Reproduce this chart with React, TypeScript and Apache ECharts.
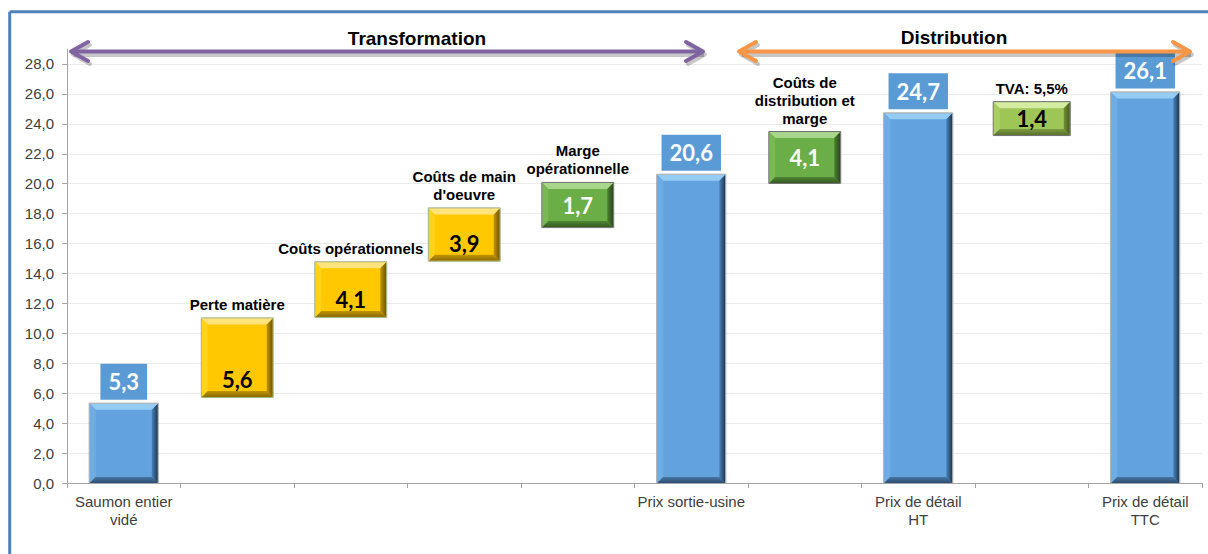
import { useEffect, useRef } from "react";
import * as echarts from "echarts";

// ---- data ----
const axisLabels = [
  "Saumon entier\nvidé",
  "",
  "",
  "",
  "",
  "Prix sortie-usine",
  "",
  "Prix de détail\nHT",
  "",
  "Prix de détail\nTTC",
];
const stepNames = [
  "",
  "Perte matière",
  "Coûts opérationnels",
  "Coûts de main\nd'oeuvre",
  "Marge\nopérationnelle",
  "",
  "Coûts de\ndistribution et\nmarge",
  "",
  "TVA: 5,5%",
  "",
];
const totalValues = [5.3, null, null, null, null, 20.6, null, 24.7, null, 26.1];
const stepValues = [null, 5.6, 4.1, 3.9, 1.7, null, 4.1, null, 1.4, null];
// extents of the floating boxes as drawn in the picture
const stepLow = [null, 5.75, 11.1, 14.85, 17.1, null, 20.05, null, 23.25, null];
const stepHigh = [null, 11.0, 14.75, 18.35, 20.05, null, 23.45, null, 25.45, null];
const yMin = 0;
const yMax = 29;
const yStep = 2;
const phaseTitles = ["Transformation", "Distribution"];

const fmt = (v: number) => v.toFixed(1).replace(".", ",");

type BoxStyle = {
  main: string; top: string; left: string; rightA: string; rightB: string;
  bottom: string; bottomB: string; stroke: string; ratio: number; text: string;
};
const STY: Record<string, BoxStyle> = {
  blue: { main: "#62A3DF", top: "#95CCF3", left: "#6DADE6", rightA: "#4A82B8", rightB: "#1E3652", bottom: "#4775A3", bottomB: "#2E4E70", stroke: "#A6A6A6", ratio: 0.6, text: "#fff" },
  gold: { main: "#FFC800", top: "#FFE47E", left: "#FFD21C", rightA: "#C09500", rightB: "#6E5500", bottom: "#C29600", bottomB: "#8A6A00", stroke: "#9DB07E", ratio: 0.625, text: "#000" },
  green: { main: "#6BAE47", top: "#A8D78C", left: "#78B855", rightA: "#4C8132", rightB: "#2A481B", bottom: "#4F8634", bottomB: "#355C22", stroke: "#6E6E6E", ratio: 0.625, text: "#fff" },
  lime: { main: "#9DC657", top: "#D4EBA2", left: "#A9CE67", rightA: "#718F36", rightB: "#465C20", bottom: "#7E9C40", bottomB: "#5A722C", stroke: "#6E6E6E", ratio: 0.67, text: "#000" },
};
const kindOf = (i: number) => (i === 8 ? "lime" : i < 4 ? "gold" : "green");

function bevel(x: number, y: number, w: number, h: number, s: BoxStyle) {
  const b = Math.min(6, h / 4, w / 4);
  const grad = (a: string, c: string, hor: boolean) =>
    new echarts.graphic.LinearGradient(0, 0, hor ? 1 : 0, hor ? 0 : 1, [
      { offset: 0, color: a },
      { offset: 1, color: c },
    ]);
  return [
    { type: "rect", shape: { x, y, width: w, height: h }, style: { fill: s.main } },
    { type: "polygon", shape: { points: [[x, y], [x + w, y], [x + w - b, y + b], [x + b, y + b]] }, style: { fill: s.top } },
    { type: "polygon", shape: { points: [[x, y], [x + b, y + b], [x + b, y + h - b], [x, y + h]] }, style: { fill: s.left } },
    { type: "polygon", shape: { points: [[x, y + h], [x + w, y + h], [x + w - b, y + h - b], [x + b, y + h - b]] }, style: { fill: grad(s.bottom, s.bottomB, false) } },
    { type: "polygon", shape: { points: [[x + w, y], [x + w, y + h], [x + w - b, y + h - b], [x + w - b, y + b]] }, style: { fill: grad(s.rightA, s.rightB, true) } },
    { type: "rect", shape: { x: x - 0.5, y: y - 0.5, width: w + 1, height: h + 1 }, style: { fill: "none", stroke: s.stroke, lineWidth: 1 } },
  ];
}

const totalData = totalValues
  .map((v, i) => (v == null ? null : [i, v]))
  .filter((d) => d !== null) as number[][];
const stepData = stepValues
  .map((v, i) => (v == null ? null : [i, stepLow[i] as number, stepHigh[i] as number, v]))
  .filter((d) => d !== null) as number[][];

const DIGIT_FONT = "bold 22px Lato, 'Open Sans', sans-serif";
const ARIAL = "Arial, 'Liberation Sans', sans-serif";

function arrow(x1: number, x2: number, y: number, color: string) {
  const shadow = "rgba(0,0,0,0.22)";
  const head = (pts: number[][], col: string, dx: number, dy: number) => ({
    type: "polyline",
    shape: { points: pts.map((p) => [p[0] + dx, p[1] + dy]) },
    style: { stroke: col, lineWidth: 4, lineCap: "round", lineJoin: "round", fill: "none" },
    z: 50,
  });
  const left = [[x1 + 17, y - 9.5], [x1, y], [x1 + 17, y + 9.5]];
  const right = [[x2 - 17, y - 9.5], [x2, y], [x2 - 17, y + 9.5]];
  return [
    // soft shadow
    { type: "rect", shape: { x: x1 + 3, y: y + 1.5, width: x2 - x1 - 2, height: 4 }, style: { fill: shadow }, z: 49 },
    head(left, shadow, 2, 3),
    head(right, shadow, 2, 3),
    // arrow itself
    { type: "rect", shape: { x: x1 + 1, y: y - 2, width: x2 - x1 - 2, height: 4 }, style: { fill: color }, z: 50 },
    head(left, color, 0, 0),
    head(right, color, 0, 0),
  ];
}

export default function App() {
  const ref = useRef<HTMLDivElement>(null);
  useEffect(() => {
    document.body.style.margin = "0";
    if (!ref.current) return;
    const chart = echarts.init(ref.current, undefined, { renderer: "svg" });
    chart.setOption({
      animation: false,
      backgroundColor: "#ffffff",
      grid: { left: 67, right: 6, top: 49, bottom: 71, containLabel: false, outerBoundsMode: "none" },
      xAxis: {
        type: "category",
        data: axisLabels,
        axisLine: { lineStyle: { color: "#A6A6A6", width: 1 } },
        axisTick: { show: true, length: 5, interval: 0, lineStyle: { color: "#A6A6A6" } },
        axisLabel: { interval: 0, fontSize: 15, color: "#404040", fontFamily: ARIAL, lineHeight: 18, margin: 9 },
        splitLine: { show: false },
      },
      yAxis: {
        type: "value",
        min: yMin,
        max: yMax,
        interval: yStep,
        axisLine: { show: true, lineStyle: { color: "#A6A6A6", width: 1 } },
        axisTick: { show: true, length: 5, lineStyle: { color: "#A6A6A6" } },
        axisLabel: {
          fontSize: 15, color: "#404040", fontFamily: ARIAL, margin: 13, showMaxLabel: false,
          formatter: (v: number) => (v > 28 ? "" : fmt(v)),
        },
        splitLine: { show: true, showMaxLine: false, lineStyle: { color: "#EBEBEB", width: 1 } },
      },
      series: [
        {
          type: "custom",
          name: "totals",
          data: totalData,
          encode: { x: 0, y: 1 },
          renderItem: (_p: any, api: any) => {
            const i = api.value(0);
            const v = api.value(1);
            const top = api.coord([i, v]);
            const base = api.coord([i, 0]);
            const s = STY.blue;
            const bw = api.size([1, 0])[0] * s.ratio;
            const x = top[0] - bw / 2;
            const children: any[] = bevel(x, top[1], bw, base[1] - top[1], s);
            children.push({
              type: "text",
              z2: 10,
              style: {
                text: fmt(v), x: top[0], y: top[1] - 4, align: "center", verticalAlign: "bottom",
                fill: "#ffffff", font: DIGIT_FONT, backgroundColor: "#5B9BD5",
                padding: [7, 8, 7, 8], lineHeight: 22,
              },
            });
            return { type: "group", children };
          },
        },
        {
          type: "custom",
          name: "steps",
          data: stepData,
          encode: { x: 0, y: [1, 2] },
          renderItem: (_p: any, api: any) => {
            const i = api.value(0);
            const lo = api.value(1);
            const hi = api.value(2);
            const v = api.value(3);
            const kind = kindOf(i);
            const s = STY[kind];
            const pTop = api.coord([i, hi]);
            const pBot = api.coord([i, lo]);
            const bw = api.size([1, 0])[0] * s.ratio;
            const x = pTop[0] - bw / 2;
            const h = pBot[1] - pTop[1];
            const children: any[] = bevel(x, pTop[1], bw, h, s);
            const ty = kind === "gold" ? pBot[1] - 17 : pTop[1] + h / 2;
            children.push({
              type: "text",
              z2: 10,
              style: {
                text: fmt(v), x: pTop[0], y: ty, align: "center", verticalAlign: "middle",
                fill: s.text, font: DIGIT_FONT,
              },
            });
            children.push({
              type: "text",
              z2: 10,
              style: {
                text: stepNames[i], x: pTop[0], y: pTop[1] - 5, align: "center", verticalAlign: "bottom",
                fill: "#000000", font: "bold 15px " + ARIAL, lineHeight: 18,
              },
            });
            return { type: "group", children };
          },
        },
      ],
      graphic: [
        { type: "line", shape: { x1: 9.7, y1: 11.8, x2: 1208, y2: 11.8 }, style: { stroke: "#4F81BD", lineWidth: 3 }, z: 60 },
        { type: "line", shape: { x1: 9.7, y1: 11.8, x2: 9.7, y2: 554 }, style: { stroke: "#4F81BD", lineWidth: 3 }, z: 60 },
        ...arrow(71, 703, 51.5, "#8064A2"),
        ...arrow(739, 1190, 51.5, "#F79646"),
        {
          type: "text", z: 55,
          style: { text: phaseTitles[0], x: 417, y: 38, align: "center", verticalAlign: "middle", fill: "#000", font: "bold 19px " + ARIAL },
        },
        {
          type: "text", z: 55,
          style: { text: phaseTitles[1], x: 954, y: 37, align: "center", verticalAlign: "middle", fill: "#000", font: "bold 19px " + ARIAL },
        },
      ],
    });
    return () => chart.dispose();
  }, []);
  return <div ref={ref} style={{ width: 1208, height: 554 }} />;
}
